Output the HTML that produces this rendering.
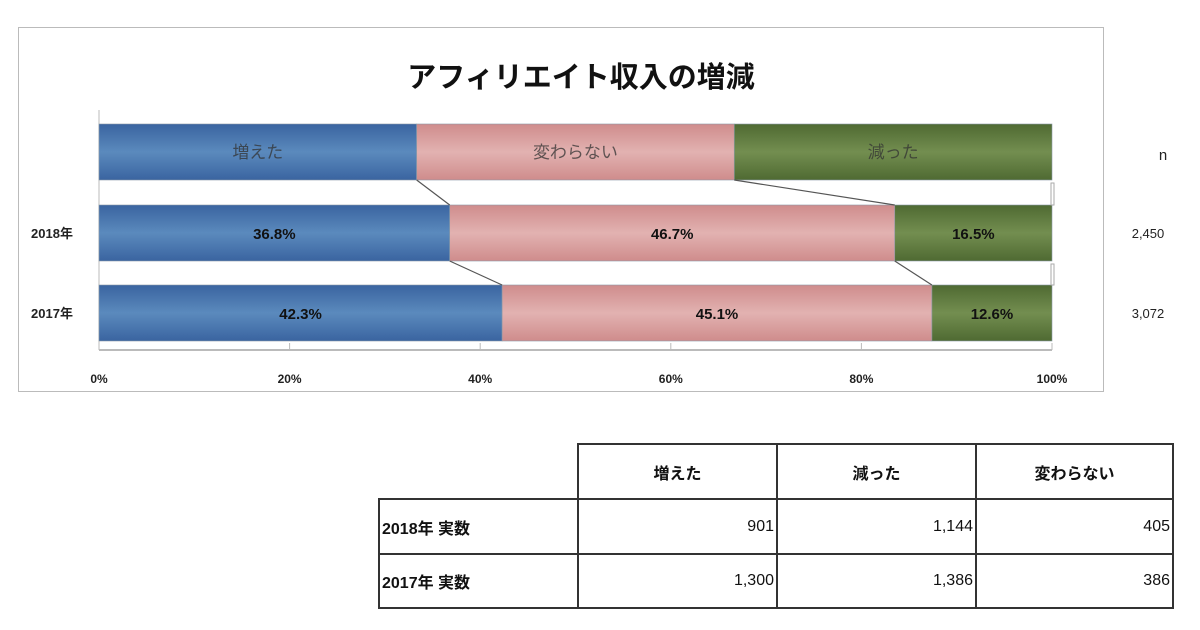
<!DOCTYPE html>
<html><head><meta charset="utf-8">
<style>
body{margin:0;background:#fff;width:1200px;height:630px;overflow:hidden;font-family:"Liberation Sans","Noto Sans CJK JP",sans-serif;}
svg{position:absolute;left:0;top:0}
.c{position:absolute;box-sizing:border-box;border:2px solid #333;font-size:16px;color:#111;display:flex;align-items:center;}
.h{justify-content:center;font-weight:bold}
.n{justify-content:flex-end;padding-right:2px}
.l{padding-left:2px;font-weight:bold}
</style></head><body>
<svg width="1200" height="630">
<defs>
<linearGradient id="gb" x1="0" y1="0" x2="0" y2="1"><stop offset="0" stop-color="#3a64a0"/><stop offset="0.5" stop-color="#5b8abd"/><stop offset="1" stop-color="#3a64a0"/></linearGradient>
<linearGradient id="gp" x1="0" y1="0" x2="0" y2="1"><stop offset="0" stop-color="#cf8c8c"/><stop offset="0.5" stop-color="#e2b2b1"/><stop offset="1" stop-color="#cf8c8c"/></linearGradient>
<linearGradient id="gg" x1="0" y1="0" x2="0" y2="1"><stop offset="0" stop-color="#4f6a32"/><stop offset="0.5" stop-color="#738e50"/><stop offset="1" stop-color="#4f6a32"/></linearGradient>
</defs>
<rect x="18.5" y="27.5" width="1085" height="364" fill="#fff" stroke="#bbb"/>
<text x="581" y="87" text-anchor="middle" font-size="29" font-weight="bold" fill="#111">アフィリエイト収入の増減</text>
<g id="plot"></g>
<text x="1163" y="160" text-anchor="middle" font-size="15" fill="#222">n</text>
</svg>
<script>
const categories=["凡例","2018年","2017年"];
const increased=[33.33,36.8,42.3];
const unchanged=[33.33,46.7,45.1];
const decreased=[33.34,16.5,12.6];
const nValues=["","2,450","3,072"];
const seriesNames=["増えた","変わらない","減った"];
const ticks=[0,20,40,60,80,100];
const NS="http://www.w3.org/2000/svg";
const g=document.getElementById('plot');
const x0=99,x1=1052;
const xs=v=>x0+(x1-x0)*v/100;
const rowTop=[124,205,285],bh=56;
const fills=["url(#gb)","url(#gp)","url(#gg)"];
function mk(t,a){const e=document.createElementNS(NS,t);for(const k in a)e.setAttribute(k,a[k]);g.appendChild(e);return e;}
let ax=mk('line',{x1:x0,y1:350,x2:x1,y2:350,stroke:'#bbb','stroke-width':2});


mk('line',{x1:x0,y1:110,x2:x0,y2:350,stroke:'#bbb','stroke-width':1});
ticks.forEach(t=>{
 mk('line',{x1:xs(t),y1:343,x2:xs(t),y2:350,stroke:'#bbb'});
 const tx=mk('text',{x:xs(t),y:383,'text-anchor':'middle','font-size':12,'font-weight':'bold',fill:'#222'});
 tx.textContent=t+'%';
 
 
});
const series=[increased,unchanged,decreased];
categories.forEach((c,i)=>{
 let acc=0;
 series.forEach((s,j)=>{
  const v=s[i];
  const r=mk('rect',{x:xs(acc),y:rowTop[i],width:xs(acc+v)-xs(acc),height:bh,fill:fills[j],stroke:'#8a9aa8','stroke-width':0.6});
  
  
  const t=mk('text',{x:(xs(acc)+xs(acc+v))/2,y:rowTop[i]+bh/2+6,'text-anchor':'middle','font-size':i===0?17:15,'font-weight':i===0?'normal':'bold',fill:i===0?'#333':'#111','fill-opacity':i===0?0.75:1});
  t.textContent=i===0?seriesNames[j]:v.toFixed(1)+'%';
  
  
  acc+=v;
 });
 if(i>0){
  const l=mk('text',{x:52,y:rowTop[i]+bh/2+5,'text-anchor':'middle','font-size':13,'font-weight':'bold',fill:'#222'});
  l.textContent=c;
  
  
  const n=mk('text',{x:1148,y:rowTop[i]+bh/2+5,'text-anchor':'middle','font-size':13,fill:'#222'});
  n.textContent=nValues[i];
  
  
 }
});
for(let i=0;i<2;i++){
 let a1=increased[i],b1=increased[i+1];
 let a2=increased[i]+unchanged[i],b2=increased[i+1]+unchanged[i+1];
 [[a1,b1],[a2,b2]].forEach(p=>{
  const l=mk('line',{x1:xs(p[0]),y1:rowTop[i]+bh,x2:xs(p[1]),y2:rowTop[i+1],stroke:'#555','stroke-width':1.2});
  
  
 });
 mk('rect',{x:x1-1,y:rowTop[i]+bh+3,width:3,height:rowTop[i+1]-rowTop[i]-bh-3,fill:'none',stroke:'#aaa'});
}
</script>
<div>
<div class="c h" style="left:577px;top:443px;width:201px;height:57px">増えた</div>
<div class="c h" style="left:776px;top:443px;width:201px;height:57px">減った</div>
<div class="c h" style="left:975px;top:443px;width:199px;height:57px">変わらない</div>
<div class="c l" style="left:378px;top:498px;width:201px;height:57px">2018年 実数</div>
<div class="c n" style="left:577px;top:498px;width:201px;height:57px">901</div>
<div class="c n" style="left:776px;top:498px;width:201px;height:57px">1,144</div>
<div class="c n" style="left:975px;top:498px;width:199px;height:57px">405</div>
<div class="c l" style="left:378px;top:553px;width:201px;height:56px">2017年 実数</div>
<div class="c n" style="left:577px;top:553px;width:201px;height:56px">1,300</div>
<div class="c n" style="left:776px;top:553px;width:201px;height:56px">1,386</div>
<div class="c n" style="left:975px;top:553px;width:199px;height:56px">386</div>
</div>
</body></html>
